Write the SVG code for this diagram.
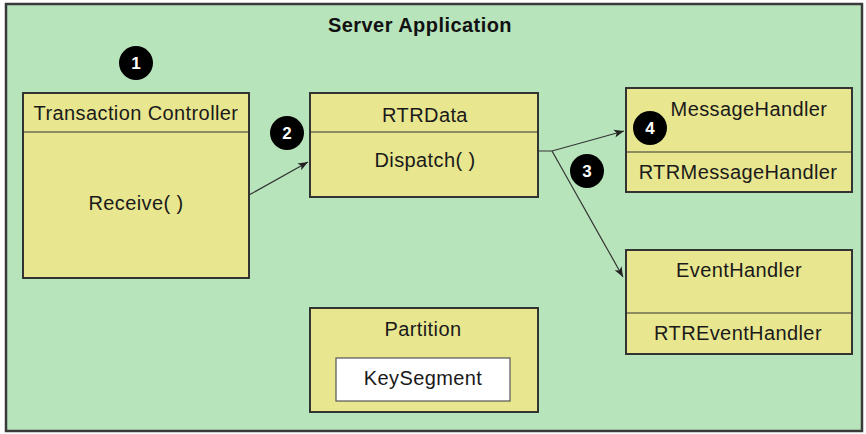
<svg xmlns="http://www.w3.org/2000/svg" width="866" height="434" viewBox="0 0 866 434">
<defs>
<style>
.frame{fill:#b8e4bc;stroke:#3a3a3a;stroke-width:2.5}
.box{fill:#e8e68f;stroke:#333;stroke-width:2}
.div{stroke:#333;stroke-width:1.2}
.key{fill:#fff;stroke:#555;stroke-width:1.2}
.t{font-family:"Liberation Sans",Arial,sans-serif;font-size:20px;letter-spacing:0.4px;fill:#1a1a1a;text-anchor:middle}
.title{font-family:"Liberation Sans",Arial,sans-serif;font-size:20px;letter-spacing:0.45px;font-weight:bold;fill:#111;text-anchor:middle}
.badge{fill:#000}
.bt{font-family:"Liberation Sans",Arial,sans-serif;font-size:17px;font-weight:bold;fill:#fff;text-anchor:middle}
.conn{fill:none;stroke:#333;stroke-width:1.2}
</style>
<marker id="arr" viewBox="0 0 10 10" refX="10" refY="5" markerWidth="10" markerHeight="10" markerUnits="userSpaceOnUse" orient="auto">
<path d="M0,1 L10,5 L0,9 L2.5,5 Z" fill="#222"/>
</marker>
</defs>
<rect class="frame" x="6" y="4" width="856" height="427"/>
<text class="title" x="420" y="32">Server Application</text>

<g id="transaction-controller">
<rect class="box" x="23" y="93" width="226" height="185"/>
<line class="div" x1="23" y1="132" x2="249" y2="132"/>
<text class="t" x="136" y="120">Transaction Controller</text>
<text class="t" x="136" y="210">Receive( )</text>
</g>

<g id="rtrdata">
<rect class="box" x="310" y="93" width="228" height="104"/>
<line class="div" x1="310" y1="132" x2="538" y2="132"/>
<text class="t" x="425" y="122">RTRData</text>
<text class="t" x="425" y="167">Dispatch( )</text>
</g>

<g id="message-handler">
<rect class="box" x="626" y="88" width="226" height="104"/>
<line class="div" x1="626" y1="152" x2="852" y2="152"/>
<text class="t" x="749" y="116">MessageHandler</text>
<text class="t" x="738" y="179">RTRMessageHandler</text>
</g>

<g id="event-handler">
<rect class="box" x="626" y="250" width="226" height="104"/>
<line class="div" x1="626" y1="313" x2="852" y2="313"/>
<text class="t" x="739" y="277">EventHandler</text>
<text class="t" x="738" y="340">RTREventHandler</text>
</g>

<g id="partition">
<rect class="box" x="310" y="308" width="228" height="104"/>
<text class="t" x="423" y="336">Partition</text>
<g id="key-segment">
<rect class="key" x="336" y="358" width="174" height="43"/>
<text class="t" x="423" y="385">KeySegment</text>
</g>
</g>

<g id="connectors">
<line class="conn" x1="249" y1="195" x2="308" y2="162" marker-end="url(#arr)"/>
<polyline class="conn" points="538,151 552,151 624,131" marker-end="url(#arr)"/>
<line class="conn" x1="552" y1="151" x2="623" y2="277" marker-end="url(#arr)"/>
</g>

<g id="badges">
<circle class="badge" cx="136" cy="63" r="17"/>
<text class="bt" x="136" y="69">1</text>
<circle class="badge" cx="287" cy="133" r="17"/>
<text class="bt" x="287" y="139">2</text>
<circle class="badge" cx="587" cy="171" r="17"/>
<text class="bt" x="587" y="177">3</text>
<circle class="badge" cx="650" cy="128" r="17"/>
<text class="bt" x="650" y="134">4</text>
</g>
</svg>
